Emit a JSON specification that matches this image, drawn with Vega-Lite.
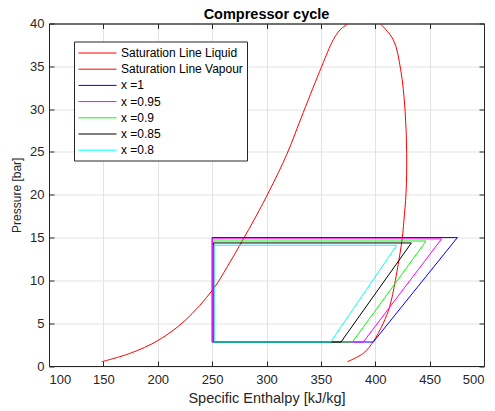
{
  "$schema": "https://vega.github.io/schema/vega-lite/v6.json",
  "autosize": "none",
  "width": 435,
  "height": 342.5,
  "padding": {"left": 49, "top": 23.5, "right": 11, "bottom": 45},
  "background": "white",
  "config": {
    "font": "Liberation Sans",
    "view": {"stroke": "#262626", "strokeWidth": 1},
    "axis": {
      "domainColor": "#262626",
      "tickColor": "#262626",
      "labelColor": "#262626",
      "titleColor": "#262626",
      "gridColor": "#e3e3e3",
      "labelFont": "Liberation Sans",
      "titleFont": "Liberation Sans",
      "labelFontSize": 13,
      "titleFontWeight": "normal"
    }
  },
  "title": {"text": "Compressor cycle", "fontSize": 14.5, "fontWeight": "bold", "color": "black", "font": "Liberation Sans", "offset": 5, "dy": 10},
  "data": {"values": [
    {"s": "Saturation Line Liquid", "o": 1, "h": 148.5, "p": 0.5},
    {"s": "Saturation Line Liquid", "o": 2, "h": 175, "p": 1.5},
    {"s": "Saturation Line Liquid", "o": 3, "h": 200.5, "p": 3.0},
    {"s": "Saturation Line Liquid", "o": 4, "h": 225, "p": 5.3},
    {"s": "Saturation Line Liquid", "o": 5, "h": 250.5, "p": 8.9},
    {"s": "Saturation Line Liquid", "o": 6, "h": 264, "p": 11.6},
    {"s": "Saturation Line Liquid", "o": 7, "h": 277.2, "p": 14.5},
    {"s": "Saturation Line Liquid", "o": 8, "h": 290, "p": 17.4},
    {"s": "Saturation Line Liquid", "o": 9, "h": 303.2, "p": 20.6},
    {"s": "Saturation Line Liquid", "o": 10, "h": 318.6, "p": 24.7},
    {"s": "Saturation Line Liquid", "o": 11, "h": 333.8, "p": 29.6},
    {"s": "Saturation Line Liquid", "o": 12, "h": 350.8, "p": 35.0},
    {"s": "Saturation Line Liquid", "o": 13, "h": 361.4, "p": 38.1},
    {"s": "Saturation Line Liquid", "o": 14, "h": 367.6, "p": 39.25},
    {"s": "Saturation Line Liquid", "o": 15, "h": 375.2, "p": 40},
    {"s": "Saturation Line Vapour", "o": 1, "h": 404.4, "p": 40},
    {"s": "Saturation Line Vapour", "o": 2, "h": 416.6, "p": 38.1},
    {"s": "Saturation Line Vapour", "o": 3, "h": 423.4, "p": 34.6},
    {"s": "Saturation Line Vapour", "o": 4, "h": 427.4, "p": 29.9},
    {"s": "Saturation Line Vapour", "o": 5, "h": 428.9, "p": 24.8},
    {"s": "Saturation Line Vapour", "o": 6, "h": 428.3, "p": 20.2},
    {"s": "Saturation Line Vapour", "o": 7, "h": 426.3, "p": 16.9},
    {"s": "Saturation Line Vapour", "o": 8, "h": 424.8, "p": 14.9},
    {"s": "Saturation Line Vapour", "o": 9, "h": 418.5, "p": 10.0},
    {"s": "Saturation Line Vapour", "o": 10, "h": 413.2, "p": 6.9},
    {"s": "Saturation Line Vapour", "o": 11, "h": 407.4, "p": 5.0},
    {"s": "Saturation Line Vapour", "o": 12, "h": 403, "p": 3.9},
    {"s": "Saturation Line Vapour", "o": 13, "h": 398.2, "p": 2.84},
    {"s": "Saturation Line Vapour", "o": 14, "h": 389, "p": 1.48},
    {"s": "Saturation Line Vapour", "o": 15, "h": 374.3, "p": 0.5},
    {"s": "x =1", "o": 1, "h": 250, "p": 2.8},
    {"s": "x =1", "o": 2, "h": 250, "p": 15},
    {"s": "x =1", "o": 3, "h": 475.5, "p": 15},
    {"s": "x =1", "o": 4, "h": 398.2, "p": 2.8},
    {"s": "x =1", "o": 5, "h": 250, "p": 2.8},
    {"s": "x =0.95", "o": 1, "h": 250.3, "p": 2.8},
    {"s": "x =0.95", "o": 2, "h": 250.3, "p": 14.85},
    {"s": "x =0.95", "o": 3, "h": 461, "p": 14.85},
    {"s": "x =0.95", "o": 4, "h": 389, "p": 2.8},
    {"s": "x =0.95", "o": 5, "h": 250.3, "p": 2.8},
    {"s": "x =0.9", "o": 1, "h": 251.2, "p": 2.8},
    {"s": "x =0.9", "o": 2, "h": 251.2, "p": 14.6},
    {"s": "x =0.9", "o": 3, "h": 446.8, "p": 14.6},
    {"s": "x =0.9", "o": 4, "h": 379, "p": 2.8},
    {"s": "x =0.9", "o": 5, "h": 251.2, "p": 2.8},
    {"s": "x =0.85", "o": 1, "h": 251.5, "p": 2.8},
    {"s": "x =0.85", "o": 2, "h": 251.5, "p": 14.37},
    {"s": "x =0.85", "o": 3, "h": 433.2, "p": 14.37},
    {"s": "x =0.85", "o": 4, "h": 368.5, "p": 2.8},
    {"s": "x =0.85", "o": 5, "h": 251.5, "p": 2.8},
    {"s": "x =0.8", "o": 1, "h": 251.8, "p": 2.8},
    {"s": "x =0.8", "o": 2, "h": 251.8, "p": 14.1},
    {"s": "x =0.8", "o": 3, "h": 419.7, "p": 14.1},
    {"s": "x =0.8", "o": 4, "h": 359, "p": 2.8},
    {"s": "x =0.8", "o": 5, "h": 251.8, "p": 2.8}
  ]},
  "layer": [
    {
      "encoding": {
        "x": {"field": "h", "type": "quantitative", "scale": {"domain": [100, 500], "nice": false, "zero": false},
              "axis": {"title": "Specific Enthalpy [kJ/kg]", "titleFontSize": 14.5, "values": [100,150,200,250,300,350,400,450,500], "tickSize": -5, "labelPadding": 12.5, "titlePadding": 5, "grid": true}},
        "y": {"field": "p", "type": "quantitative", "scale": {"domain": [0, 40], "nice": false, "zero": false},
              "axis": {"title": "Pressure [bar]", "titleFontSize": 12, "values": [0,5,10,15,20,25,30,35,40], "tickSize": -5, "labelPadding": 10, "titlePadding": 6, "grid": true}},
        "order": {"field": "o", "type": "quantitative"},
        "color": {"field": "s", "type": "nominal",
                  "scale": {"domain": ["Saturation Line Liquid", "Saturation Line Vapour", "x =1", "x =0.95", "x =0.9", "x =0.85", "x =0.8"],
                            "range": ["#ff0000", "#ff0000", "#0000ff", "#ff00ff", "#00ff00", "#000000", "#00ffff"]},
                  "legend": {"title": null, "orient": "none", "legendX": 25, "legendY": 18,
                             "strokeColor": "#262626", "fillColor": "white", "padding": 4,
                             "symbolType": "M-1,0H4.43", "symbolSize": 196, "symbolStrokeWidth": 1,
                             "labelFontSize": 12, "labelColor": "black", "labelFont": "Liberation Sans",
                             "labelOffset": 28, "rowPadding": 2.2,
                             "encode": {"symbols": {"update": {"stroke": {"scale": "color", "field": "value"}, "fill": {"value": "transparent"}, "strokeWidth": {"value": 1}}}}}}
      },
      "layer": [
        {
          "transform": [{"filter": "indexof(datum.s, 'Saturation') == 0"}],
          "mark": {"type": "line", "strokeWidth": 1, "clip": true, "interpolate": "catmull-rom"}
        },
        {
          "transform": [{"filter": "indexof(datum.s, 'Saturation') != 0"}],
          "mark": {"type": "line", "strokeWidth": 1, "clip": true}
        }
      ]
    },
    {
      "mark": {"type": "line", "opacity": 0},
      "encoding": {
        "x": {"field": "h", "type": "quantitative", "axis": {"orient": "top", "labels": false, "title": null, "grid": false, "values": [100,150,200,250,300,350,400,450,500], "tickSize": -5}},
        "y": {"field": "p", "type": "quantitative", "axis": {"orient": "right", "labels": false, "title": null, "grid": false, "values": [0,5,10,15,20,25,30,35,40], "tickSize": -5}},
        "detail": {"field": "s"}
      }
    }
  ],
  "resolve": {"axis": {"x": "independent", "y": "independent"}}
}
